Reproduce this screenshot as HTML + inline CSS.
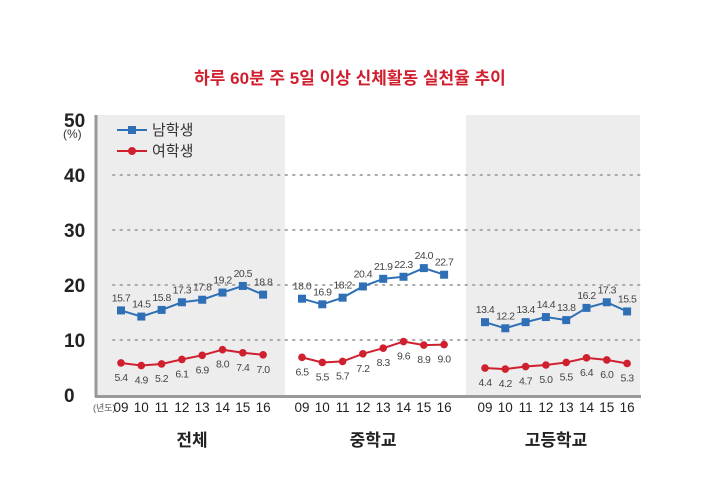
<!DOCTYPE html>
<html><head><meta charset="utf-8"><style>
body{margin:0;background:#fff;}
svg{display:block;font-family:"Liberation Sans","Noto Sans CJK KR",sans-serif;}
</style></head><body>
<svg id="c" width="718" height="497" viewBox="0 0 718 497">
<text x="350" y="84" text-anchor="middle" font-size="17" font-weight="bold" fill="#d0202f">하루 60분 주 5일 이상 신체활동 실천율 추이</text>
<g id="bg"></g><g id="grid"></g><g id="axes"></g><g id="marks"></g>
<g>
<line x1="117" y1="130" x2="147" y2="130" stroke="#2f6fb5" stroke-width="2"/><rect x="128" y="126" width="8" height="8" fill="#2f6fb5"/>
<text x="152" y="135" font-size="15" fill="#333">남학생</text>
<line x1="117" y1="151" x2="147" y2="151" stroke="#d0202f" stroke-width="2"/><circle cx="132" cy="151" r="4" fill="#d0202f"/>
<text x="152" y="156" font-size="15" fill="#333">여학생</text>
</g>
</svg>
<script>
const groups=["전체","중학교","고등학교"];
const years=["09","10","11","12","13","14","15","16"];
const boys=[[15.7,14.5,15.8,17.3,17.8,19.2,20.5,18.8],[18.0,16.9,18.2,20.4,21.9,22.3,24.0,22.7],[13.4,12.2,13.4,14.4,13.8,16.2,17.3,15.5]];
const girls=[[5.4,4.9,5.2,6.1,6.9,8.0,7.4,7.0],[6.5,5.5,5.7,7.2,8.3,9.6,8.9,9.0],[4.4,4.2,4.7,5.0,5.5,6.4,6.0,5.3]];
const yTicks=[0,10,20,30,40,50];
const NS="http://www.w3.org/2000/svg";
const y=v=>395-v*5.5;
const ym=v=>390.5-v*5.1;
const gx0=[121,302,485], gstep=20.3;
const x=(g,i)=>gx0[g]+i*gstep;
function el(t,a,p,txt){const e=document.createElementNS(NS,t);for(const k in a)e.setAttribute(k,a[k]);if(txt!==undefined)e.textContent=txt;document.getElementById(p).appendChild(e);return e;}
const panels=[[97,285,"#ededed"],[285,466,"#fff"],[466,640,"#ededed"]];
panels.forEach((p,i)=>{const r=el("rect",{x:p[0],y:115,width:p[1]-p[0],height:281,fill:p[2]},"bg");

});
yTicks.forEach(v=>{
 if(v>0&&v<50){const l=el("line",{x1:113,x2:640,y1:y(v),y2:y(v),stroke:"#aaa","stroke-width":2,"stroke-dasharray":"1.5 6","stroke-linecap":"round"},"grid");
 
 }
 const t=el("text",{x:64,y:y(v)+7,"font-size":19,"font-weight":"bold",fill:"#222"},"axes",String(v));
 
 
});
const pu=el("text",{x:63,y:138,"font-size":12,fill:"#333"},"axes","(%)");


const ax=el("line",{x1:96,x2:96,y1:115,y2:397,stroke:"#999","stroke-width":3},"axes");


const bx=el("line",{x1:95,x2:641,y1:396.5,y2:396.5,stroke:"#999","stroke-width":3},"axes");


const yl=el("text",{x:93,y:411,"font-size":9,fill:"#555"},"axes","(년도)");


groups.forEach((gname,g)=>{
 years.forEach((yr,i)=>{const t=el("text",{x:x(g,i),y:412,"text-anchor":"middle","font-size":13.5,fill:"#222"},"axes",yr);
 
 });
 const gl=el("text",{x:(x(g,0)+x(g,7))/2,y:446,"text-anchor":"middle","font-size":17,"font-weight":"bold",fill:"#222"},"axes",gname);
 
 
 [[boys,"#2f6fb5",-9],[girls,"#d0202f",18]].forEach(([arr,col,off],s)=>{
  const pts=arr[g].map((v,i)=>x(g,i)+","+ym(v)).join(" ");
  const pl=el("polyline",{points:pts,fill:"none",stroke:col,"stroke-width":2},"marks");
  
  
  arr[g].forEach((v,i)=>{
   let m;
   if(s==0) m=el("rect",{x:x(g,i)-4,y:ym(v)-4,width:8,height:8,fill:col},"marks");
   else m=el("circle",{cx:x(g,i),cy:ym(v),r:3.8,fill:col},"marks");
   
   
   const t=el("text",{x:x(g,i),y:ym(v)+off,"text-anchor":"middle","font-size":10.5,"letter-spacing":"-0.5",fill:"#444"},"marks",v.toFixed(1));
   
   
  });
 });
});
</script>
</body></html>
